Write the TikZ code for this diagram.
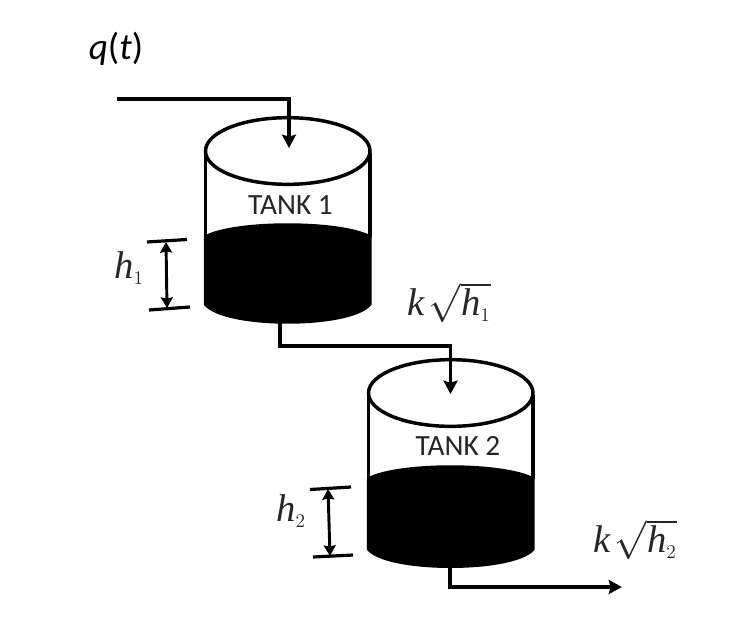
\documentclass[tikz,border=0pt]{standalone}
\usepackage{amsmath}
\usepackage{fix-cm}
\usepackage{fontspec}
\setmainfont{Carlito}
\newfontfamily\hfont{Liberation Serif}
\newcommand{\hvar}{\text{\hfont\itshape h}}
\newcommand{\kvar}{\text{\hfont\itshape k}}
\usetikzlibrary{arrows.meta, shapes.geometric}
\tikzset{
    wall/.style={draw=black, line width=2.6pt},
    tanktop/.style={ellipse, draw=black, line width=2.6pt, fill=white, minimum width=123.4pt, minimum height=50pt, inner sep=0pt},
    liquid/.style={draw=black, fill=black, line width=2.6pt, line join=round},
    flow/.style={-{Stealth[length=10pt,width=10.5pt,inset=1.5pt]}, black, line width=2.6pt},
    level/.style={{Stealth[length=8pt,width=9pt,inset=1pt]}-{Stealth[length=8pt,width=9pt,inset=1pt]}, black, line width=2.2pt},
    bar/.style={black, line width=2.4pt},
    tanklabel/.style={inner sep=0pt, font=\fontsize{22}{24}\selectfont, text=black!85},
    mathlabel/.style={inner sep=0pt, font=\fontsize{29}{32}\selectfont, text=black!85}
}
\begin{document}
\begin{tikzpicture}[x=0.75pt, y=-0.75pt]
    \useasboundingbox (0,0) rectangle (742,636);
    \fill[white] (0,0) rectangle (742,636);

    % Tank 1
    \draw[liquid] (205.5,237) .. controls (235,221) and (340,221) .. (370,237) -- (370,304) .. controls (350,328) and (225,328) .. (205.5,304) -- cycle;
    \draw[wall] (205.5,153) -- (205.5,237);
    \draw[wall] (370,153) -- (370,237);
    \node[tanktop] (top1) at (287.75,151) {};
    \node[tanklabel] (tank1) at (290.5,205) {TANK 1};

    % Tank 2
    \draw[liquid] (368.5,479) .. controls (398,463) and (503,463) .. (533,479) -- (533,549) .. controls (513,572) and (388,572) .. (368.5,549) -- cycle;
    \draw[wall] (368.5,395) -- (368.5,479);
    \draw[wall] (533,395) -- (533,479);
    \node[tanktop] (top2) at (450.75,393) {};
    \node[tanklabel] (tank2) at (458,446) {TANK 2};

    % Pipes
    \coordinate (qin) at (117,99);
    \coordinate (in1) at (289,148);
    \coordinate (out1) at (280,322);
    \coordinate (mid1) at (280,346);
    \coordinate (in2) at (450.5,394);
    \coordinate (out2) at (450,564);
    \coordinate (qout) at (622,587);
    \draw[flow] (qin) -| (in1);
    \draw[flow] (out1) -- (mid1) -| (in2);
    \draw[flow] (out2) |- (qout);

    % Level marks
    \coordinate (a1) at (147,242);
    \coordinate (b1) at (187,239.5);
    \coordinate (c1) at (149,310);
    \coordinate (d1) at (190,307);
    \coordinate (a2) at (310,489.5);
    \coordinate (b2) at (351,487);
    \coordinate (c2) at (313,557);
    \coordinate (d2) at (353,555);
    \draw[bar] (a1) -- (b1);
    \draw[bar] (c1) -- (d1);
    \draw[bar] (a2) -- (b2);
    \draw[bar] (c2) -- (d2);
    \coordinate (l1) at (166,242);
    \coordinate (m1) at (167,308);
    \coordinate (l2) at (328,489);
    \coordinate (m2) at (330,556);
    \draw[level] (l1) -- (m1);
    \draw[level] (l2) -- (m2);

    % Labels
    \node[mathlabel, font=\fontsize{28}{30}\selectfont, text=black] (flowin) at (116,49) {\textit{q}(\textit{t})};
    \node[mathlabel] (h1) at (129,268) {$\hvar_{\scriptscriptstyle 1}$};
    \node[mathlabel] (h2) at (291,511) {$\hvar_{\scriptscriptstyle 2}$};
    \node[mathlabel] (flow1) at (449,303) {$\kvar\mskip2mu\sqrt{\hvar_{\scriptscriptstyle 1}}$};
    \node[mathlabel] (flow2) at (635,540) {$\kvar\mskip2mu\sqrt{\hvar_{\scriptscriptstyle 2}}$};
\end{tikzpicture}
\end{document}
